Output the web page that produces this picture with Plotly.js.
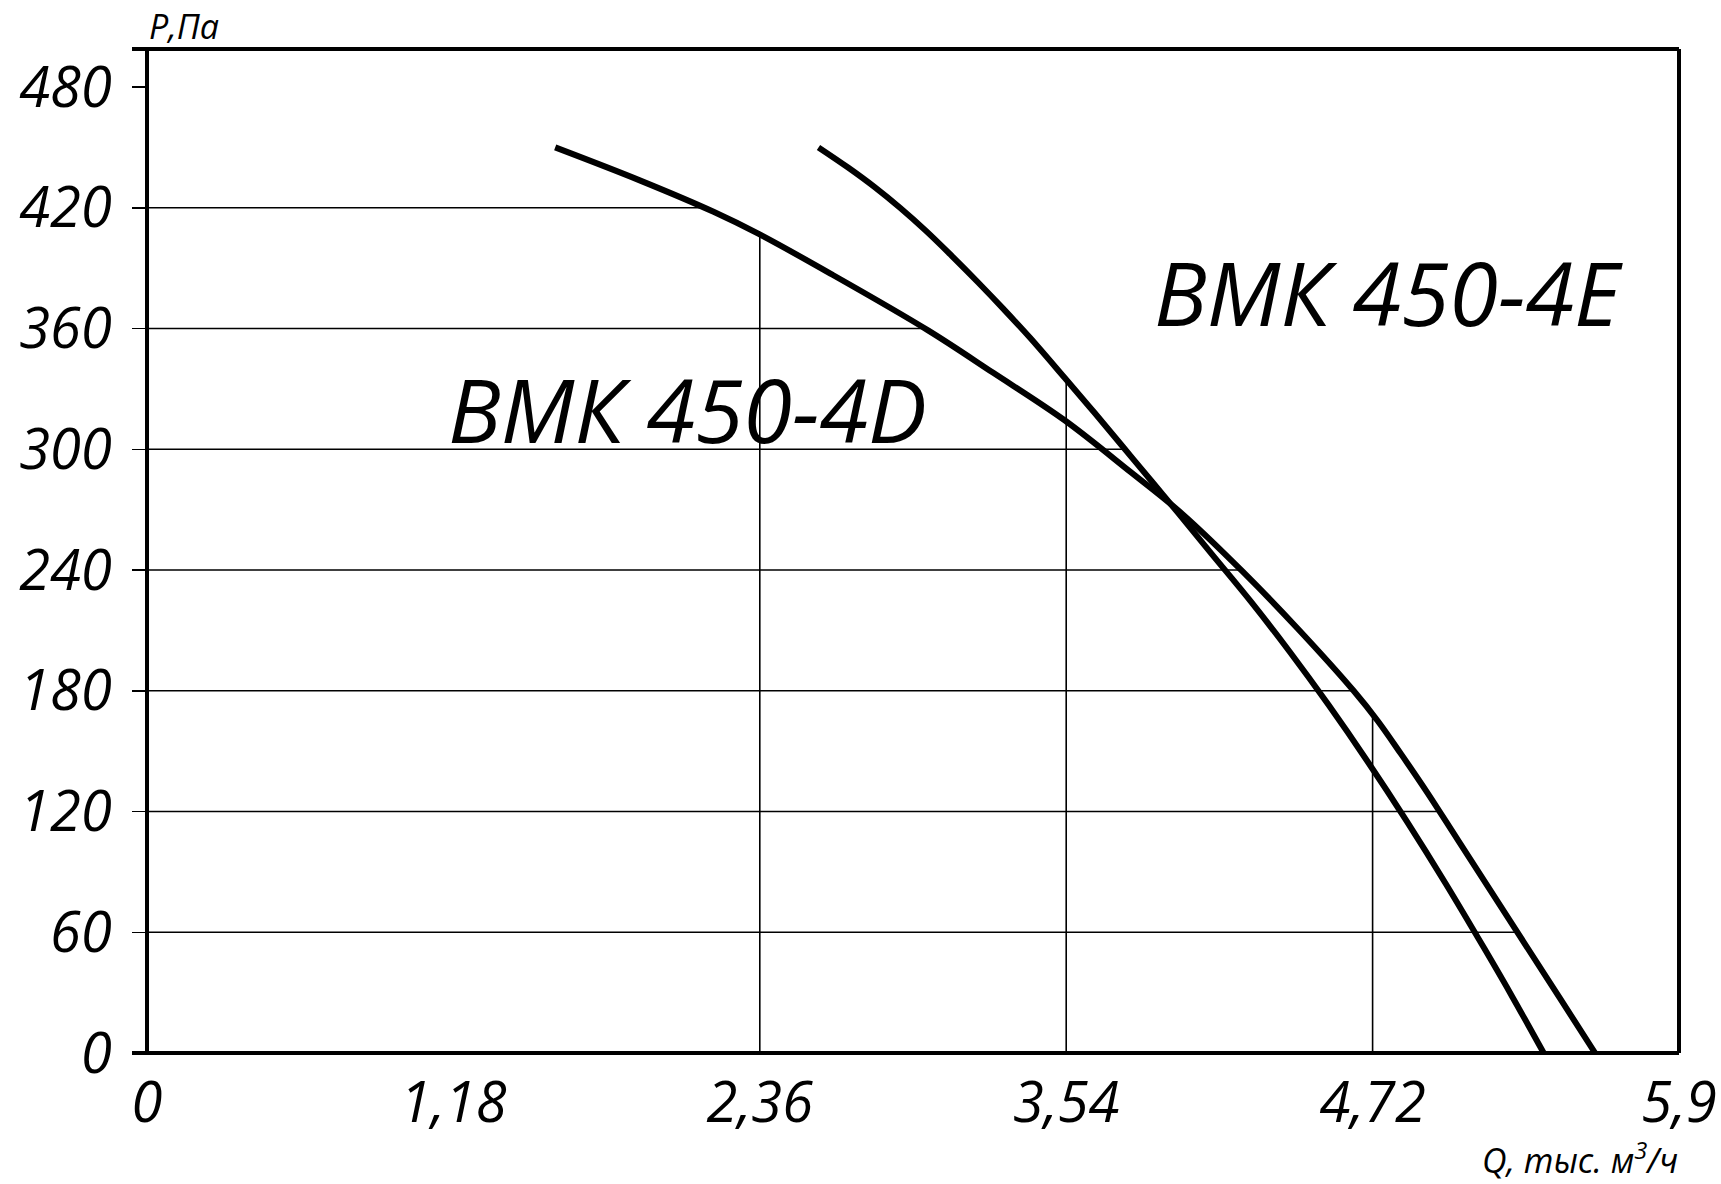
<!DOCTYPE html>
<html>
<head>
<meta charset="utf-8">
<script src="https://cdn.plot.ly/plotly-3.0.1.min.js"></script>
<style>html,body{margin:0;padding:0;background:#fff;}#chart{width:1721px;height:1184px;}</style>
</head>
<body>
<div id="chart"></div>
<script>
// ---- data ----
const qD = [1.572, 1.900, 2.182, 2.356, 2.632, 3.008, 3.259, 3.534, 3.785, 3.986, 4.220, 4.433, 4.647, 4.740, 4.830, 4.930, 5.050, 5.250, 5.440, 5.577];
const pD = [450, 433.5, 418, 407, 387.3, 359.1, 338, 314.4, 289, 268, 239.2, 210.7, 180, 165, 148.5, 129.5, 105.5, 65.5, 27.5, 0];
const qE = [2.586, 2.700, 2.800, 2.900, 3.000, 3.100, 3.200, 3.300, 3.400, 3.534, 3.650, 3.760, 3.870, 3.970, 4.100, 4.250, 4.400, 4.550, 4.700, 4.850, 5.000, 5.150, 5.260, 5.379];
const pE = [450, 440, 430.5, 420, 408.5, 396, 383, 369.5, 355.5, 335.5, 318, 301, 284, 268.5, 248, 224.5, 199.5, 173, 145, 115.5, 84.5, 52, 27.5, 0];

const nameD = 'ВМК 450-4D';
const nameE = 'ВМК 450-4E';

const xTicks = [0, 1.18, 2.36, 3.54, 4.72, 5.9];
const xTickText = ['0', '1,18', '2,36', '3,54', '4,72', '5,9'];
const yTicks = [0, 60, 120, 180, 240, 300, 360, 420, 480];
const yTickText = ['0', '60', '120', '180', '240', '300', '360', '420', '480'];

// which curve each grid line stops at (null = tick only)
const xGridClip = [null, null, 'D', 'E', 'D', null];
const yGridClip = [null, 'D', 'D', 'D', 'D', 'E', 'D', 'D', null];

// ---- helpers ----
const curves = {D: {q: qD, p: pD}, E: {q: qE, p: pE}};
function pAt(c, x) {
  const q = c.q, p = c.p;
  for (let i = 0; i < q.length - 1; i++) {
    if (x >= q[i] && x <= q[i + 1]) return p[i] + (p[i + 1] - p[i]) * (x - q[i]) / (q[i + 1] - q[i]);
  }
  return null;
}
function qAt(c, y) {
  const q = c.q, p = c.p;
  for (let i = 0; i < p.length - 1; i++) {
    if (y <= p[i] && y >= p[i + 1]) return q[i] + (q[i + 1] - q[i]) * (p[i] - y) / (p[i] - p[i + 1]);
  }
  return null;
}

const gx = [], gy = [];
yTicks.forEach((v, i) => {
  const c = yGridClip[i];
  if (!c) return;
  const xe = qAt(curves[c], v);
  if (xe === null) return;
  gx.push(0, xe, null); gy.push(v, v, null);
});
xTicks.forEach((v, i) => {
  const c = xGridClip[i];
  if (!c) return;
  const ye = pAt(curves[c], v);
  if (ye === null) return;
  gx.push(v, v, null); gy.push(0, ye, null);
});

const FONT = 'Open Sans, Noto Sans, DejaVu Sans, sans-serif';

const traces = [
  {x: gx, y: gy, mode: 'lines', line: {color: '#000', width: 1.6}, hoverinfo: 'skip', showlegend: false},
  {x: qD, y: pD, mode: 'lines', name: nameD, line: {color: '#000', width: 6, shape: 'spline', smoothing: 1, simplify: false}, showlegend: false},
  {x: qE, y: pE, mode: 'lines', name: nameE, line: {color: '#000', width: 6, shape: 'spline', smoothing: 1, simplify: false}, showlegend: false}
];

const W = 1721, H = 1184;
const mL = 147, mR = 42, mT = 49, mB = 131;
const plotW = W - mL - mR;
const ext = 15 / plotW;

const shapes = [
  {type: 'line', xref: 'paper', yref: 'paper', x0: -ext, x1: 1, y0: 1, y1: 1, line: {color: '#000', width: 4}, layer: 'above'},
  {type: 'line', xref: 'paper', yref: 'paper', x0: -ext, x1: 1, y0: 0, y1: 0, line: {color: '#000', width: 4}, layer: 'above'},
  {type: 'line', xref: 'paper', yref: 'paper', x0: 0, x1: 0, y0: 0, y1: 1, line: {color: '#000', width: 4}, layer: 'above'},
  {type: 'line', xref: 'paper', yref: 'paper', x0: 1, x1: 1, y0: 0, y1: 1, line: {color: '#000', width: 4}, layer: 'above'}
];
xTicks.forEach((v, i) => {
  if (xGridClip[i] === null && i > 0 && i < xTicks.length - 1) {
    shapes.push({type: 'line', xref: 'x', yref: 'y', ysizemode: 'pixel', yanchor: 0, x0: v, x1: v, y0: -2, y1: -13, line: {color: '#000', width: 1.5}});
  }
});

const layout = {
  width: W, height: H,
  margin: {l: mL, r: mR, t: mT, b: mB, pad: 0},
  paper_bgcolor: '#fff', plot_bgcolor: '#fff',
  showlegend: false,
  xaxis: {
    range: [0, 5.9], tickvals: xTicks, ticktext: xTickText,
    showgrid: false, zeroline: false, showline: false,
    ticks: '', ticklabelstandoff: 12,
    tickfont: {family: FONT, size: 56, color: '#000', style: 'italic'}
  },
  yaxis: {
    range: [0, 498.9], tickvals: yTicks, ticktext: yTickText,
    showgrid: false, zeroline: false, showline: false,
    ticks: 'outside', ticklen: 14, tickwidth: 1.5, tickcolor: '#000',
    ticklabelstandoff: 9,
    tickfont: {family: FONT, size: 56, color: '#000', style: 'italic'}
  },
  shapes: shapes,
  annotations: [
    {text: nameD, x: 2.082, y: 320, xref: 'x', yref: 'y', xanchor: 'center', yanchor: 'middle', showarrow: false,
     font: {family: FONT, size: 88, color: '#000', style: 'italic'}},
    {text: nameE, x: 4.782, y: 378, xref: 'x', yref: 'y', xanchor: 'center', yanchor: 'middle', showarrow: false,
     font: {family: FONT, size: 88, color: '#000', style: 'italic'}},
    {text: 'P,Па', x: 0, y: 1, xref: 'paper', yref: 'paper', xanchor: 'left', yanchor: 'bottom', xshift: 1, yshift: -1, borderpad: 0, showarrow: false,
     font: {family: FONT, size: 34, color: '#000', style: 'italic'}},
    {text: 'Q, тыс. м<sup>3</sup>/ч', x: 1, y: 0, xref: 'paper', yref: 'paper', xanchor: 'right', yanchor: 'top', xshift: 0, yshift: -80, borderpad: 0, showarrow: false,
     font: {family: FONT, size: 34, color: '#000', style: 'italic'}}
  ]
};

Plotly.newPlot('chart', traces, layout, {displayModeBar: false, staticPlot: true});
</script>
</body>
</html>
